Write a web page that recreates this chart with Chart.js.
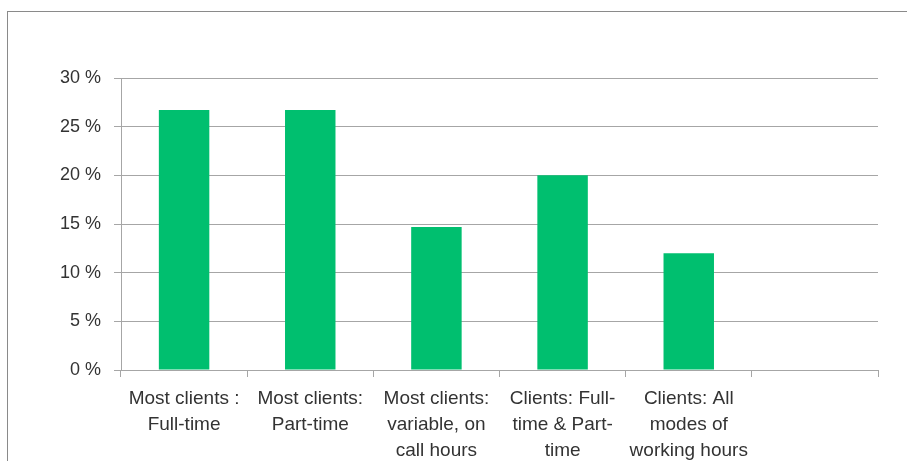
<!DOCTYPE html>
<html>
<head>
<meta charset="utf-8">
<script src="https://cdn.jsdelivr.net/npm/chart.js@4/dist/chart.umd.min.js"></script>
<style>
  html, body { margin: 0; padding: 0; background: #fff; overflow: hidden; }
  #wrap { position: relative; width: 907px; height: 461px; }
  #frame { position: absolute; left: 7px; top: 11px; width: 920px; height: 470px; border: 1px solid #8a8a8a; box-sizing: border-box; }
  canvas { position: absolute; left: 0; top: 0; }
</style>
</head>
<body>
<div id="wrap">
  <div id="frame"></div>
  <canvas id="c" width="907" height="461"></canvas>
</div>
<script>
const categories = [
  ["Most clients :", "Full-time"],
  ["Most clients:", "Part-time"],
  ["Most clients:", "variable, on", "call hours"],
  ["Clients: Full-", "time & Part-", "time"],
  ["Clients: All", "modes of", "working hours"],
  ""
];
const shares = [26.7, 26.7, 14.7, 20.0, 12.0, null];
const yTicks = [0, 5, 10, 15, 20, 25, 30];

const FONT = "'Liberation Sans', Arial, sans-serif";
const TEXT = "#333333";
const GRID = "#a6a6a6";

new Chart(document.getElementById('c'), {
  type: 'bar',
  data: {
    labels: categories,
    datasets: [{
      data: shares,
      backgroundColor: '#00BF6F',
      borderWidth: 0,
      categoryPercentage: 1.0,
      barPercentage: 0.4
    }]
  },
  options: {
    responsive: false,
    animation: false,
    devicePixelRatio: 1,
    layout: { padding: { left: 0, right: 29, top: 78, bottom: 0 } },
    plugins: { legend: { display: false }, tooltip: { enabled: false } },
    scales: {
      x: {
        offset: true,
        grid: { display: true, drawOnChartArea: false, drawTicks: true, tickLength: 7, color: GRID, offset: true },
        border: { display: true, color: GRID, width: 1 },
        ticks: {
          autoSkip: false, maxRotation: 0, minRotation: 0, padding: 9,
          color: TEXT, font: { family: FONT, size: 19, lineHeight: 1.37 }
        },
        afterFit: s => { s.height = 91; }
      },
      y: {
        min: 0, max: 30,
        afterBuildTicks: s => { s.ticks = yTicks.map(v => ({ value: v })); },
        grid: { color: GRID, drawTicks: true, tickLength: 7 },
        border: { display: true, color: GRID, width: 1 },
        ticks: {
          padding: 13, color: TEXT,
          font: { family: FONT, size: 18 },
          callback: v => v + ' %'
        },
        afterFit: s => { s.width = 121; }
      }
    }
  }
});
</script>
</body>
</html>
